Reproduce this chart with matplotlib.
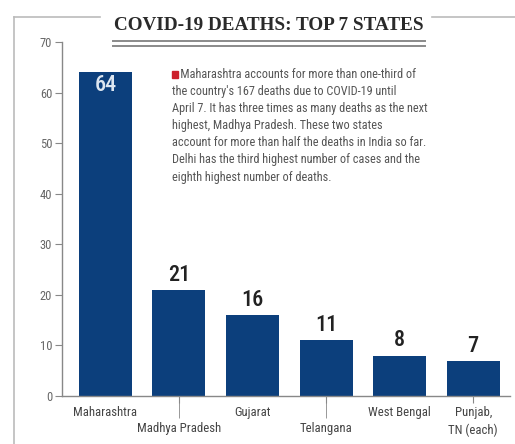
import matplotlib
matplotlib.use("Agg")
import matplotlib.pyplot as plt
from matplotlib.lines import Line2D
from matplotlib.patches import Rectangle
import logging
logging.getLogger("matplotlib.font_manager").setLevel(logging.ERROR)

states = ["Maharashtra", "Madhya Pradesh", "Gujarat", "Telangana", "West Bengal", "Punjab,\nTN (each)"]
deaths = [64, 21, 16, 11, 8, 7]
yticks = [0, 10, 20, 30, 40, 50, 60, 70]
title = "COVID-19 DEATHS: TOP 7 STATES"
note = ("Maharashtra accounts for more than one-third of\n"
        "the country's 167 deaths due to COVID-19 until\n"
        "April 7. It has three times as many deaths as the next\n"
        "highest, Madhya Pradesh. These two states\n"
        "account for more than half the deaths in India so far.\n"
        "Delhi has the third highest number of cases and the\n"
        "eighth highest number of deaths.")

NARROW = ["Roboto Condensed", "Barlow Condensed", "Archivo Narrow", "PT Sans Narrow",
          "Open Sans Condensed", "DejaVu Sans"]
BAR = "#0c3f7c"
GRAY = "#666666"

W, H = 515, 444
fig = plt.figure(figsize=(W / 100, H / 100), dpi=100)
fig.patch.set_facecolor("white")

def fx(px):
    return px / W

def fy(py):
    return 1 - py / H

ax = fig.add_axes([fx(62), fy(396), fx(510) - fx(62), fy(42) - fy(396)])
x = list(range(len(states)))
ax.bar(x, deaths, width=0.72, color=BAR, zorder=2)
ax.set_xlim(-0.59, 5.5)
ax.set_ylim(0, 70)

for s in ["top", "right"]:
    ax.spines[s].set_visible(False)
for s in ["left", "bottom"]:
    ax.spines[s].set_color("#888888")
    ax.spines[s].set_linewidth(1.0)

ax.set_yticks(yticks)
ax.set_yticklabels([str(v) for v in yticks], fontsize=9, color=GRAY, family=NARROW)
ax.tick_params(axis="y", length=5, color="#888888", pad=2)

ax.xaxis.remove_overlapping_locs = False
ax.set_xticks(x)
ax.set_xticklabels(states, fontsize=9.2, color="#444444", family=NARROW, linespacing=1.45, va="top")
ax.tick_params(axis="x", which="major", length=5, color="#888888", pad=2)
for i, t in enumerate(ax.xaxis.get_major_ticks()):
    if i in (0, 2, 4):
        t.tick1line.set_visible(False)
    if i in (1, 3):
        t.set_pad(14)
ax.set_xticks([1, 3], minor=True)
ax.tick_params(axis="x", which="minor", length=16, color="#888888")

for i, v in enumerate(deaths):
    if i == 0:
        ax.text(i, v - 0.4, str(v), ha="center", va="top", color="#dde6f0",
                fontsize=16, fontweight="medium", family=NARROW)
    else:
        ax.text(i, v + 0.8, str(v), ha="center", va="bottom", color="#222222",
                fontsize=16, fontweight="medium", family=NARROW)

# title
fig.text(fx(269), fy(25.5), title, ha="center", va="center", fontsize=13.8,
         fontweight="bold", family=["Liberation Serif", "DejaVu Serif"], color="#2a2a2a")
for py in (41.5, 46):
    fig.add_artist(Line2D([fx(113), fx(425)], [fy(py), fy(py)], color="#8a8a8a", lw=1.4))

# frame
fig.add_artist(Line2D([fx(14), fx(14)], [fy(17), fy(444)], color="#bbbbbb", lw=1.2))
fig.add_artist(Line2D([fx(14), fx(100)], [fy(17), fy(17)], color="#bbbbbb", lw=1.2))
fig.add_artist(Line2D([fx(432), fx(515)], [fy(17), fy(17)], color="#bbbbbb", lw=1.2))

# note
fig.add_artist(Rectangle((fx(172), fy(78)), fx(6), fy(71) - fy(78), color="#cc1f2a"))
fig.text(fx(172), fy(67.5), "   " + note, ha="left", va="top", fontsize=8.8,
         family=NARROW, color="#555555", linespacing=1.42)

fig.savefig("out.png", dpi=100)
